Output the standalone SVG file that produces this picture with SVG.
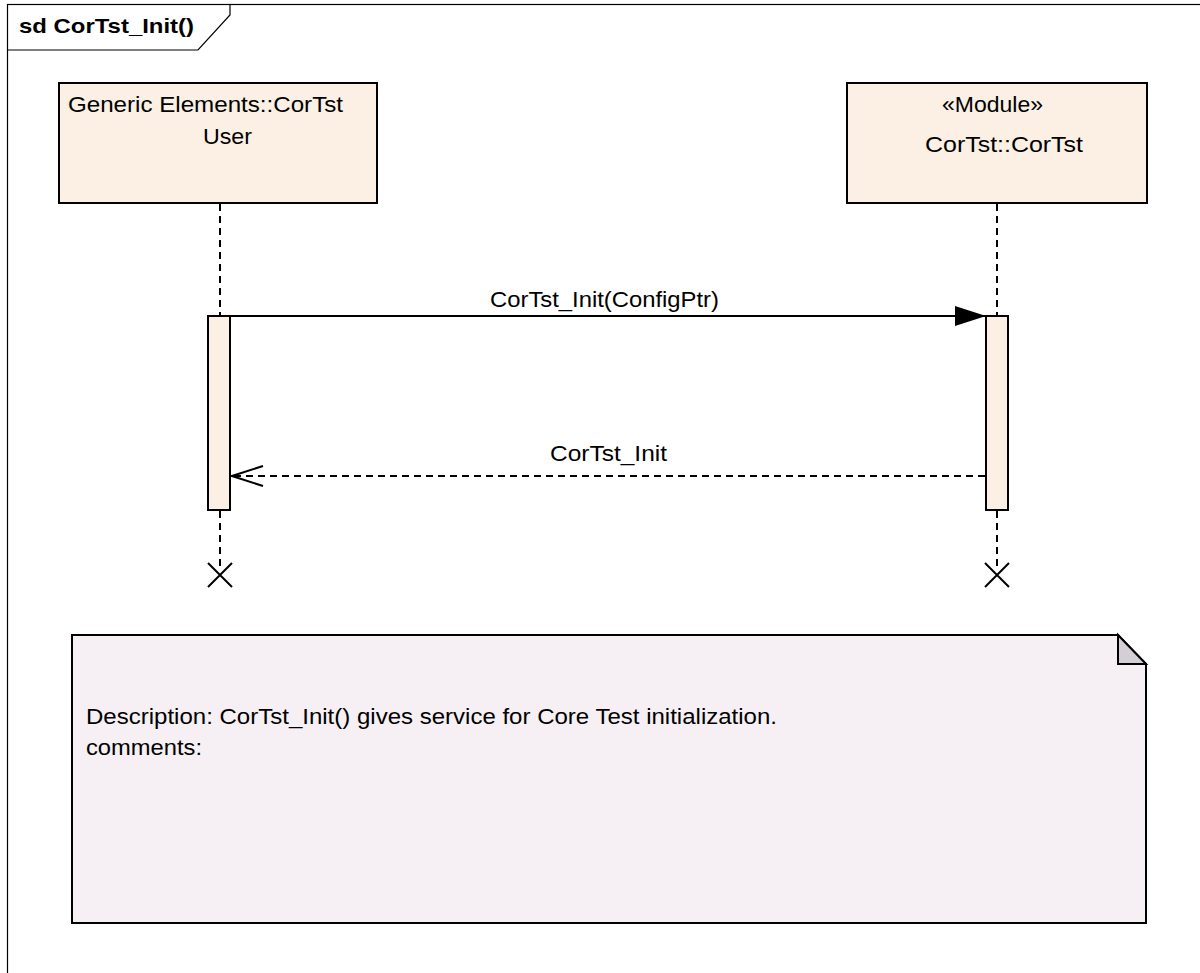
<svg xmlns="http://www.w3.org/2000/svg" width="1200" height="973" viewBox="0 0 1200 973">
<style>
text{font-family:"Liberation Sans",Arial,sans-serif;font-size:22px;fill:#000}
.box{fill:#fbf0e3;stroke:#000;stroke-width:2}
.act{fill:#fbf0e3;stroke:#000;stroke-width:2}
.life{stroke:#000;stroke-width:2;stroke-dasharray:7,5;fill:none}
.x{stroke:#000;stroke-width:2;fill:none}
</style>
<defs>
<marker id="filled" markerWidth="32" markerHeight="22" refX="31" refY="11" orient="auto" markerUnits="userSpaceOnUse">
<path d="M0,1 L31,11 L0,21 Z" fill="#000"/>
</marker>
<marker id="open" markerWidth="34" markerHeight="24" refX="32" refY="12" orient="auto" markerUnits="userSpaceOnUse">
<path d="M1,2 L32,12 L1,22" fill="none" stroke="#000" stroke-width="2"/>
</marker>
</defs>
<rect x="0" y="0" width="1200" height="973" fill="#fff"/>
<g id="frame">
<rect x="7.5" y="4.5" width="1200" height="1000" fill="none" stroke="#000" stroke-width="1.2"/>
<path d="M7.5,50 L198,50 L230,15 L230,4.5" fill="none" stroke="#000" stroke-width="1.2"/>
<text x="19" y="33" style="font-weight:bold;font-size:21px" textLength="175" lengthAdjust="spacingAndGlyphs">sd CorTst_Init()</text>
</g>
<g id="user">
<rect class="box" x="59" y="83" width="318" height="120"/>
<text x="68" y="112" textLength="275" lengthAdjust="spacingAndGlyphs">Generic Elements::CorTst</text>
<text x="203" y="144" textLength="49" lengthAdjust="spacingAndGlyphs">User</text>
<line class="life" x1="220" y1="204" x2="220" y2="316"/>
<rect class="act" x="208" y="316" width="22" height="194"/>
<line class="life" x1="220" y1="511" x2="220" y2="566"/>
<path class="x" d="M208,563 L232,587 M232,563 L208,587"/>
</g>
<g id="cortst">
<rect class="box" x="847" y="83" width="300" height="120"/>
<text x="942" y="112" textLength="101" lengthAdjust="spacingAndGlyphs">«Module»</text>
<text x="925" y="152" textLength="158" lengthAdjust="spacingAndGlyphs">CorTst::CorTst</text>
<line class="life" x1="997" y1="204" x2="997" y2="316"/>
<rect class="act" x="986" y="316" width="22" height="194"/>
<line class="life" x1="997" y1="511" x2="997" y2="566"/>
<path class="x" d="M985,563 L1009,587 M1009,563 L985,587"/>
</g>
<g id="connectors">
<line x1="231" y1="316" x2="986" y2="316" stroke="#000" stroke-width="2" marker-end="url(#filled)"/>
<text x="490" y="307" textLength="229" lengthAdjust="spacingAndGlyphs">CorTst_Init(ConfigPtr)</text>
<line x1="985" y1="476" x2="232" y2="476" stroke="#000" stroke-width="2" stroke-dasharray="7,5" marker-end="url(#open)"/>
<text x="550" y="461" textLength="117" lengthAdjust="spacingAndGlyphs">CorTst_Init</text>
</g>
<g id="note">
<path d="M72,635 L1118,635 L1146,664 L1146,923 L72,923 Z" fill="#f6f0f4" stroke="#000" stroke-width="2"/>
<path d="M1118,635 L1118,664 L1146,664 Z" fill="#d4cfd4" stroke="#000" stroke-width="2"/>
<text x="86" y="724" textLength="691" lengthAdjust="spacingAndGlyphs">Description: CorTst_Init() gives service for Core Test initialization.</text>
<text x="86" y="755" textLength="116" lengthAdjust="spacingAndGlyphs">comments:</text>
</g>
</svg>
